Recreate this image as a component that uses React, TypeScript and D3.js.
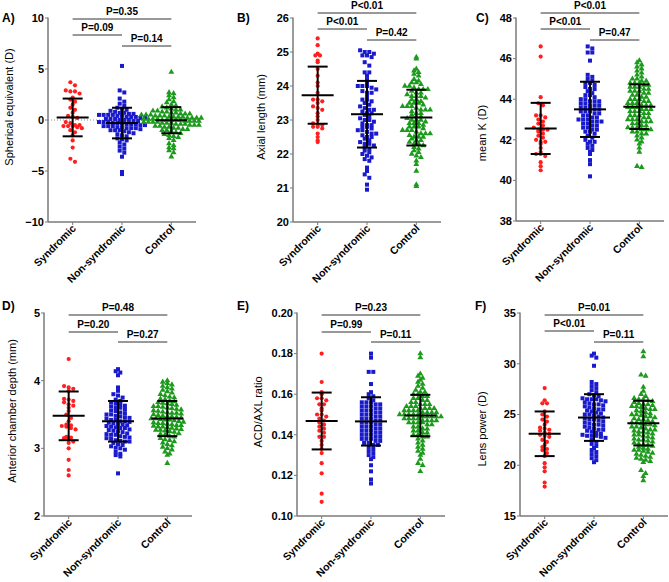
import * as d3 from 'd3';

const CATEGORIES = ['Syndromic', 'Non-syndromic', 'Control'];
const COLORS = ['#ff1f1f', '#1a1acd', '#1c9a1c'];

// A) spherical equivalent (D)
const synA = [3.7, 3.4, 2.9, 2.8, 2.8, 2.6, 2.2, 2.0, 1.8, 1.5, 1.2, 1.0, 0.7, 0.4, 0.3, 0.2, -0.2, -0.3, -0.5, -0.5, -0.6, -0.6, -0.6, -0.7, -0.8, -1.0, -1.2, -1.5, -2.0, -2.7, -3.8, -4.1];
const nonA = [5.3, 2.9, 2.7, 2.1, 1.8, 1.6, 1.4, 1.2, 1.1, 1.0, 0.9, 0.8, 0.7, 0.7, 0.6, 0.6, 0.5, 0.5, 0.5, 0.5, 0.4, 0.4, 0.3, 0.3, 0.3, 0.2, 0.2, 0.1, 0.1, 0.1, 0.0, 0.0, 0.0, -0.1, -0.1, -0.2, -0.2, -0.2, -0.3, -0.3, -0.3, -0.4, -0.4, -0.4, -0.5, -0.5, -0.6, -0.6, -0.6, -0.7, -0.7, -0.8, -0.8, -0.8, -0.9, -1.0, -1.0, -1.0, -1.1, -1.2, -1.3, -1.4, -1.5, -1.6, -1.8, -1.9, -2.0, -2.2, -2.4, -2.6, -2.8, -3.0, -3.2, -3.6, -5.1, -5.3];
const ctlA = [4.7, 2.7, 2.6, 2.4, 2.2, 2.0, 1.8, 1.7, 1.5, 1.4, 1.3, 1.2, 1.1, 1.0, 1.0, 0.9, 0.9, 0.8, 0.8, 0.7, 0.7, 0.6, 0.6, 0.6, 0.5, 0.5, 0.5, 0.4, 0.4, 0.4, 0.3, 0.3, 0.3, 0.3, 0.2, 0.2, 0.2, 0.2, 0.1, 0.1, 0.1, 0.1, 0.0, 0.0, 0.0, 0.0, 0.0, -0.1, -0.1, -0.1, -0.1, -0.2, -0.2, -0.2, -0.2, -0.3, -0.3, -0.3, -0.4, -0.4, -0.4, -0.5, -0.5, -0.5, -0.6, -0.6, -0.7, -0.7, -0.8, -0.8, -0.9, -0.9, -1.0, -1.0, -1.1, -1.2, -1.3, -1.4, -1.5, -1.6, -1.7, -1.8, -2.0, -2.3, -2.5, -2.7, -2.8, -3.0, -3.2, -3.6];
const meanA = [0.25, -0.3, -0.02];
const sdA = [1.85, 1.5, 1.28];
const pA = ['P=0.35', 'P=0.09', 'P=0.14'];

// B) axial length (mm)
const synB = [25.4, 25.2, 24.95, 24.9, 24.9, 24.75, 24.7, 24.5, 24.3, 24.1, 24.0, 23.8, 23.6, 23.6, 23.55, 23.5, 23.4, 23.35, 23.3, 23.2, 23.1, 23.0, 22.9, 22.85, 22.85, 22.8, 22.8, 22.75, 22.6, 22.5, 22.4, 22.35];
const nonB = [25.05, 25.0, 25.0, 24.95, 24.9, 24.9, 24.85, 24.7, 24.6, 24.4, 24.4, 24.3, 24.2, 24.1, 24.0, 24.0, 24.0, 23.95, 23.9, 23.85, 23.8, 23.8, 23.7, 23.6, 23.6, 23.55, 23.5, 23.45, 23.4, 23.35, 23.3, 23.3, 23.25, 23.2, 23.2, 23.15, 23.1, 23.05, 23.0, 23.0, 22.95, 22.9, 22.85, 22.85, 22.8, 22.8, 22.75, 22.7, 22.7, 22.65, 22.6, 22.6, 22.55, 22.5, 22.5, 22.45, 22.4, 22.35, 22.3, 22.3, 22.25, 22.2, 22.15, 22.1, 22.05, 22.0, 21.95, 21.9, 21.85, 21.8, 21.6, 21.5, 21.4, 21.3, 21.1, 20.95];
const ctlB = [24.85, 24.8, 24.5, 24.45, 24.4, 24.35, 24.3, 24.2, 24.15, 24.1, 24.1, 24.05, 24.0, 24.0, 23.95, 23.9, 23.9, 23.9, 23.85, 23.8, 23.8, 23.75, 23.7, 23.7, 23.7, 23.65, 23.6, 23.6, 23.55, 23.5, 23.5, 23.5, 23.45, 23.4, 23.4, 23.4, 23.35, 23.3, 23.3, 23.3, 23.25, 23.2, 23.2, 23.15, 23.1, 23.1, 23.05, 23.0, 23.0, 23.0, 22.95, 22.9, 22.9, 22.9, 22.85, 22.8, 22.8, 22.8, 22.75, 22.7, 22.7, 22.7, 22.65, 22.6, 22.6, 22.6, 22.55, 22.5, 22.5, 22.5, 22.45, 22.4, 22.4, 22.35, 22.3, 22.3, 22.25, 22.2, 22.15, 22.1, 22.05, 22.0, 21.95, 21.9, 21.8, 21.7, 21.5, 21.1, 21.05];
const meanB = [23.73, 23.17, 23.07];
const sdB = [0.84, 0.98, 0.82];
const pB = ['P<0.01', 'P<0.01', 'P=0.42'];

// C) mean K (D)
const synC = [46.6, 46.1, 44.1, 43.8, 43.7, 43.2, 43.2, 43.1, 43.0, 42.9, 42.8, 42.7, 42.6, 42.5, 42.5, 42.5, 42.4, 42.3, 42.2, 42.1, 42.0, 41.9, 41.9, 41.8, 41.6, 41.4, 41.3, 41.3, 41.2, 40.9, 40.7, 40.5];
const nonC = [46.6, 46.5, 46.3, 46.3, 45.9, 45.2, 45.1, 45.0, 44.9, 44.8, 44.8, 44.7, 44.6, 44.5, 44.5, 44.4, 44.3, 44.2, 44.2, 44.1, 44.0, 44.0, 43.9, 43.9, 43.9, 43.8, 43.8, 43.7, 43.7, 43.7, 43.6, 43.6, 43.6, 43.5, 43.5, 43.4, 43.4, 43.4, 43.3, 43.3, 43.2, 43.2, 43.1, 43.1, 43.0, 43.0, 43.0, 42.9, 42.9, 42.9, 42.8, 42.8, 42.7, 42.7, 42.6, 42.6, 42.5, 42.5, 42.4, 42.4, 42.3, 42.2, 42.1, 42.0, 41.9, 41.9, 41.8, 41.7, 41.6, 41.5, 41.4, 41.3, 41.0, 40.8, 40.2];
const ctlC = [45.9, 45.8, 45.7, 45.6, 45.5, 45.4, 45.3, 45.2, 45.1, 45.0, 45.0, 44.9, 44.9, 44.8, 44.8, 44.8, 44.7, 44.7, 44.6, 44.6, 44.6, 44.5, 44.5, 44.4, 44.4, 44.4, 44.3, 44.3, 44.2, 44.2, 44.1, 44.1, 44.0, 44.0, 44.0, 43.9, 43.9, 43.8, 43.8, 43.8, 43.7, 43.7, 43.7, 43.6, 43.6, 43.6, 43.5, 43.5, 43.5, 43.4, 43.4, 43.4, 43.3, 43.3, 43.2, 43.2, 43.2, 43.1, 43.1, 43.0, 43.0, 43.0, 42.9, 42.9, 42.9, 42.8, 42.8, 42.7, 42.7, 42.6, 42.6, 42.6, 42.5, 42.5, 42.5, 42.4, 42.4, 42.3, 42.3, 42.2, 42.1, 42.0, 41.9, 41.8, 41.6, 41.4, 40.7, 40.65];
const meanC = [42.56, 43.5, 43.63];
const sdC = [1.26, 1.36, 1.1];
const pC = ['P<0.01', 'P<0.01', 'P=0.47'];

// D) anterior chamber depth (mm)
const synD = [4.32, 3.92, 3.9, 3.88, 3.85, 3.73, 3.72, 3.7, 3.68, 3.65, 3.63, 3.6, 3.55, 3.5, 3.45, 3.4, 3.35, 3.34, 3.33, 3.32, 3.3, 3.28, 3.17, 3.16, 3.15, 3.13, 3.1, 3.08, 3.0, 2.83, 2.68, 2.6];
const nonD = [4.17, 4.14, 4.12, 4.08, 3.9, 3.85, 3.8, 3.78, 3.75, 3.72, 3.7, 3.68, 3.66, 3.65, 3.63, 3.62, 3.6, 3.6, 3.58, 3.56, 3.55, 3.53, 3.52, 3.5, 3.5, 3.48, 3.47, 3.46, 3.45, 3.44, 3.42, 3.42, 3.4, 3.4, 3.39, 3.38, 3.37, 3.36, 3.35, 3.34, 3.33, 3.32, 3.31, 3.3, 3.3, 3.28, 3.27, 3.26, 3.25, 3.24, 3.22, 3.21, 3.2, 3.2, 3.18, 3.17, 3.16, 3.15, 3.14, 3.12, 3.11, 3.1, 3.1, 3.08, 3.06, 3.05, 3.03, 3.01, 3.0, 2.98, 2.95, 2.92, 2.9, 2.88, 2.63];
const ctlD = [4.0, 3.98, 3.96, 3.94, 3.92, 3.9, 3.88, 3.86, 3.84, 3.82, 3.8, 3.78, 3.76, 3.75, 3.73, 3.72, 3.7, 3.69, 3.68, 3.67, 3.66, 3.65, 3.64, 3.62, 3.62, 3.61, 3.6, 3.59, 3.58, 3.57, 3.56, 3.55, 3.54, 3.53, 3.52, 3.52, 3.51, 3.5, 3.49, 3.48, 3.47, 3.47, 3.46, 3.45, 3.44, 3.44, 3.43, 3.42, 3.42, 3.41, 3.4, 3.39, 3.38, 3.37, 3.37, 3.36, 3.35, 3.34, 3.34, 3.33, 3.32, 3.32, 3.31, 3.3, 3.29, 3.28, 3.27, 3.27, 3.26, 3.25, 3.24, 3.22, 3.21, 3.2, 3.18, 3.17, 3.15, 3.13, 3.12, 3.1, 3.08, 3.06, 3.04, 3.02, 3.0, 2.98, 2.95, 2.92, 2.9, 2.78];
const meanD = [3.48, 3.4, 3.44];
const sdD = [0.36, 0.3, 0.26];
const pD = ['P=0.48', 'P=0.20', 'P=0.27'];

// E) ACD/AXL ratio
const synE = [0.180, 0.166, 0.161, 0.160, 0.158, 0.158, 0.157, 0.155, 0.155, 0.153, 0.152, 0.150, 0.150, 0.149, 0.148, 0.147, 0.146, 0.145, 0.144, 0.143, 0.142, 0.141, 0.139, 0.139, 0.137, 0.135, 0.133, 0.131, 0.126, 0.121, 0.111, 0.107];
const nonE = [0.180, 0.178, 0.171, 0.171, 0.165, 0.161, 0.160, 0.159, 0.158, 0.157, 0.156, 0.156, 0.156, 0.155, 0.155, 0.154, 0.154, 0.154, 0.153, 0.153, 0.152, 0.152, 0.152, 0.151, 0.151, 0.150, 0.150, 0.150, 0.149, 0.149, 0.148, 0.148, 0.148, 0.147, 0.147, 0.146, 0.146, 0.146, 0.145, 0.145, 0.144, 0.144, 0.144, 0.143, 0.143, 0.142, 0.142, 0.142, 0.141, 0.141, 0.140, 0.140, 0.140, 0.139, 0.139, 0.138, 0.138, 0.138, 0.137, 0.137, 0.136, 0.136, 0.135, 0.135, 0.134, 0.133, 0.132, 0.131, 0.130, 0.129, 0.128, 0.125, 0.122, 0.118, 0.116];
const ctlE = [0.180, 0.178, 0.170, 0.169, 0.168, 0.167, 0.166, 0.165, 0.164, 0.163, 0.162, 0.161, 0.161, 0.160, 0.160, 0.159, 0.159, 0.158, 0.158, 0.157, 0.157, 0.156, 0.156, 0.155, 0.155, 0.155, 0.154, 0.154, 0.154, 0.153, 0.153, 0.153, 0.153, 0.152, 0.152, 0.152, 0.152, 0.151, 0.151, 0.151, 0.151, 0.150, 0.150, 0.150, 0.150, 0.150, 0.149, 0.149, 0.149, 0.149, 0.149, 0.148, 0.148, 0.148, 0.148, 0.147, 0.147, 0.147, 0.147, 0.146, 0.146, 0.146, 0.146, 0.145, 0.145, 0.144, 0.144, 0.143, 0.143, 0.142, 0.142, 0.141, 0.141, 0.140, 0.140, 0.139, 0.139, 0.138, 0.137, 0.136, 0.135, 0.134, 0.133, 0.132, 0.131, 0.130, 0.128, 0.126, 0.125, 0.122];
const meanE = [0.1468, 0.1466, 0.1495];
const sdE = [0.014, 0.0119, 0.0102];
const pE = ['P=0.23', 'P=0.99', 'P=0.11'];

// F) lens power (D)
const synF = [27.6, 26.4, 26.1, 26.1, 25.3, 25.0, 24.8, 24.5, 24.3, 24.0, 23.7, 23.6, 23.5, 23.4, 23.2, 23.1, 23.0, 22.9, 22.8, 22.5, 22.3, 22.0, 21.8, 21.6, 21.5, 21.2, 20.9, 20.2, 19.8, 19.4, 18.3, 17.9];
const nonF = [31.0, 30.8, 30.6, 29.8, 28.2, 28.0, 27.8, 27.6, 27.4, 27.2, 27.0, 26.9, 26.8, 26.6, 26.5, 26.5, 26.5, 26.4, 26.3, 26.2, 26.1, 26.0, 26.0, 25.9, 25.8, 25.7, 25.6, 25.5, 25.5, 25.4, 25.3, 25.2, 25.1, 25.0, 25.0, 24.9, 24.8, 24.7, 24.6, 24.5, 24.5, 24.4, 24.3, 24.2, 24.1, 24.0, 24.0, 23.9, 23.8, 23.7, 23.6, 23.5, 23.5, 23.4, 23.3, 23.2, 23.1, 23.0, 22.9, 22.9, 22.9, 22.8, 22.7, 22.5, 22.3, 22.1, 21.9, 21.7, 21.5, 21.3, 21.1, 20.9, 20.7, 20.5, 20.3];
const ctlF = [31.2, 30.7, 28.9, 28.8, 27.7, 27.3, 27.0, 26.8, 26.6, 26.5, 26.5, 26.4, 26.3, 26.2, 26.1, 26.0, 26.0, 25.9, 25.8, 25.8, 25.7, 25.6, 25.5, 25.5, 25.4, 25.3, 25.2, 25.1, 25.0, 25.0, 24.9, 24.8, 24.8, 24.7, 24.6, 24.5, 24.5, 24.4, 24.3, 24.2, 24.2, 24.1, 24.0, 24.0, 23.9, 23.8, 23.8, 23.7, 23.6, 23.5, 23.5, 23.4, 23.3, 23.3, 23.2, 23.1, 23.0, 23.0, 22.9, 22.8, 22.7, 22.6, 22.5, 22.5, 22.4, 22.3, 22.2, 22.1, 22.0, 22.0, 21.9, 21.8, 21.7, 21.6, 21.5, 21.5, 21.4, 21.3, 21.2, 21.1, 21.0, 20.9, 20.8, 20.7, 20.6, 20.5, 20.4, 20.3, 19.5, 19.2, 18.9, 18.5];
const meanF = [23.1, 24.7, 24.15];
const sdF = [2.2, 2.3, 2.2];
const pF = ['P=0.01', 'P<0.01', 'P=0.11'];

const FONT = '"Liberation Sans", Arial, sans-serif';
const PLOT_W = 148;
// comparisons drawn top to bottom: S vs C, S vs N, N vs C
const PAIRS: [number, number][] = [[0, 2], [0, 1], [1, 2]];

interface PanelCfg {
  letter: string; letterX: number; letterY: number;
  left: number; top: number; bottom: number;
  domain: [number, number]; ticks: number[]; fmt: (v: number) => string;
  title: string; titleX: number; titleY: number;
  groups: number[][]; means: number[]; sds: number[]; pvals: string[];
  bracketY: number[]; zeroLine?: boolean;
}

const panels: PanelCfg[] = [
  { letter: 'A)', letterX: 2, letterY: 22, left: 48, top: 18, bottom: 222, domain: [-10, 10], ticks: [-10, -5, 0, 5, 10], fmt: d3.format('d'),
    title: 'Spherical equivalent (D)', titleX: 13, titleY: 107, groups: [synA, nonA, ctlA], means: meanA, sds: sdA, pvals: pA, bracketY: [19, 35, 46], zeroLine: true },
  { letter: 'B)', letterX: 237, letterY: 22, left: 293, top: 18, bottom: 222, domain: [20, 26], ticks: d3.range(20, 27), fmt: d3.format('d'),
    title: 'Axial length (mm)', titleX: 265, titleY: 117, groups: [synB, nonB, ctlB], means: meanB, sds: sdB, pvals: pB, bracketY: [13, 29, 40] },
  { letter: 'C)', letterX: 476, letterY: 22, left: 516, top: 18, bottom: 221, domain: [38, 48], ticks: d3.range(38, 49, 2), fmt: d3.format('d'),
    title: 'mean K (D)', titleX: 486, titleY: 133, groups: [synC, nonC, ctlC], means: meanC, sds: sdC, pvals: pC, bracketY: [13, 29, 40] },
  { letter: 'D)', letterX: 2, letterY: 310, left: 44, top: 313, bottom: 516, domain: [2, 5], ticks: [2, 3, 4, 5], fmt: d3.format('d'),
    title: 'Anterior chamber depth (mm)', titleX: 16, titleY: 411, groups: [synD, nonD, ctlD], means: meanD, sds: sdD, pvals: pD, bracketY: [315, 332, 342] },
  { letter: 'E)', letterX: 237, letterY: 310, left: 297, top: 313, bottom: 516, domain: [0.1, 0.2], ticks: [0.1, 0.12, 0.14, 0.16, 0.18, 0.2], fmt: d3.format('.2f'),
    title: 'ACD/AXL ratio', titleX: 262, titleY: 412, groups: [synE, nonE, ctlE], means: meanE, sds: sdE, pvals: pE, bracketY: [315, 332, 342] },
  { letter: 'F)', letterX: 475, letterY: 310, left: 520, top: 313, bottom: 516, domain: [15, 35], ticks: [15, 20, 25, 30, 35], fmt: d3.format('d'),
    title: 'Lens power (D)', titleX: 486, titleY: 429, groups: [synF, nonF, ctlF], means: meanF, sds: sdF, pvals: pF, bracketY: [315, 331, 342] },
];

// simple row-based swarm: points falling in the same pixel row are spread sideways
function swarm(values: number[], y: d3.ScaleLinear<number, number>, cx: number, row: number, gap: number) {
  const rows = d3.group(values.map(v => y(v)), py => Math.round(py / row));
  const pts: { x: number; y: number }[] = [];
  rows.forEach(arr => {
    arr.forEach((py, i) => pts.push({ x: cx + (i - (arr.length - 1) / 2) * gap, y: py }));
  });
  return pts;
}

const triangle = d3.symbol(d3.symbolTriangle, 15)() || '';

function Marker({ kind, x, y }: { kind: number; x: number; y: number }) {
  if (kind === 0) return <circle cx={x} cy={y} r={2.1} fill={COLORS[0]} />;
  if (kind === 1) return <rect x={x - 2} y={y - 2} width={4} height={4} fill={COLORS[1]} />;
  return <path d={triangle} transform={`translate(${x},${y})`} fill={COLORS[2]} />;
}

function Panel({ cfg }: { cfg: PanelCfg }) {
  const y = d3.scaleLinear().domain(cfg.domain).range([cfg.bottom, cfg.top]);
  const x = d3.scalePoint<string>().domain(CATEGORIES).range([cfg.left, cfg.left + PLOT_W]).padding(0.5);
  const right = cfg.left + PLOT_W;

  return (
    <g fontFamily={FONT}>
      <text x={cfg.letterX} y={cfg.letterY} fontSize={12} fontWeight="bold">{cfg.letter}</text>
      <text transform={`translate(${cfg.titleX},${cfg.titleY}) rotate(-90)`} textAnchor="middle" fontSize={11}>{cfg.title}</text>

      {cfg.zeroLine && (
        <line x1={cfg.left} x2={right} y1={y(0)} y2={y(0)} stroke="#888" strokeWidth={1} strokeDasharray="1,2" />
      )}

      {/* axes */}
      <line x1={cfg.left} x2={cfg.left} y1={cfg.top - 0.5} y2={cfg.bottom} stroke="#7a7a7a" strokeWidth={1.5} />
      <line x1={cfg.left} x2={right} y1={cfg.bottom} y2={cfg.bottom} stroke="#7a7a7a" strokeWidth={1.5} />
      {cfg.ticks.map(t => (
        <g key={t}>
          <line x1={cfg.left - 3} x2={cfg.left} y1={y(t)} y2={y(t)} stroke="#7a7a7a" strokeWidth={1} />
          <text x={cfg.left - 4} y={y(t)} dy="0.35em" textAnchor="end" fontSize={11} fontWeight="bold">{cfg.fmt(t)}</text>
        </g>
      ))}
      {CATEGORIES.map(c => (
        <g key={c}>
          <line x1={x(c)} x2={x(c)} y1={cfg.bottom} y2={cfg.bottom + 3} stroke="#7a7a7a" strokeWidth={1} />
          <text transform={`translate(${(x(c) || 0) + 4},${cfg.bottom + 7}) rotate(-45)`} textAnchor="end" fontSize={10.5} fontWeight="bold">{c}</text>
        </g>
      ))}

      {/* data points */}
      {cfg.groups.map((vals, gi) =>
        swarm(vals, y, x(CATEGORIES[gi]) || 0, 4, 4.6).map((p, i) => <Marker key={`${gi}-${i}`} kind={gi} x={p.x} y={p.y} />)
      )}

      {/* mean and SD */}
      {cfg.means.map((m, gi) => {
        const cx = x(CATEGORIES[gi]) || 0;
        const hi = y(m + cfg.sds[gi]);
        const lo = y(m - cfg.sds[gi]);
        return (
          <g key={gi} stroke="#000" strokeWidth={2}>
            <line x1={cx} x2={cx} y1={hi} y2={lo} />
            <line x1={cx - 10} x2={cx + 10} y1={hi} y2={hi} />
            <line x1={cx - 10} x2={cx + 10} y1={lo} y2={lo} />
            <line x1={cx - 16} x2={cx + 16} y1={y(m)} y2={y(m)} />
          </g>
        );
      })}

      {/* comparison brackets */}
      {PAIRS.map(([a, b], i) => {
        const x1 = x(CATEGORIES[a]) || 0;
        const x2 = x(CATEGORIES[b]) || 0;
        const by = cfg.bracketY[i];
        return (
          <g key={i}>
            <line x1={x1} x2={x2} y1={by} y2={by} stroke="#333" strokeWidth={1} />
            <text x={(x1 + x2) / 2} y={by - 4} textAnchor="middle" fontSize={10} fontWeight="bold">{cfg.pvals[i]}</text>
          </g>
        );
      })}
    </g>
  );
}

export default function App() {
  return (
    <svg width={669} height={582} style={{ position: 'absolute', left: 0, top: 0, background: '#fff' }}>
      <rect width={669} height={582} fill="#fff" />
      {panels.map(p => <Panel key={p.letter} cfg={p} />)}
    </svg>
  );
}
